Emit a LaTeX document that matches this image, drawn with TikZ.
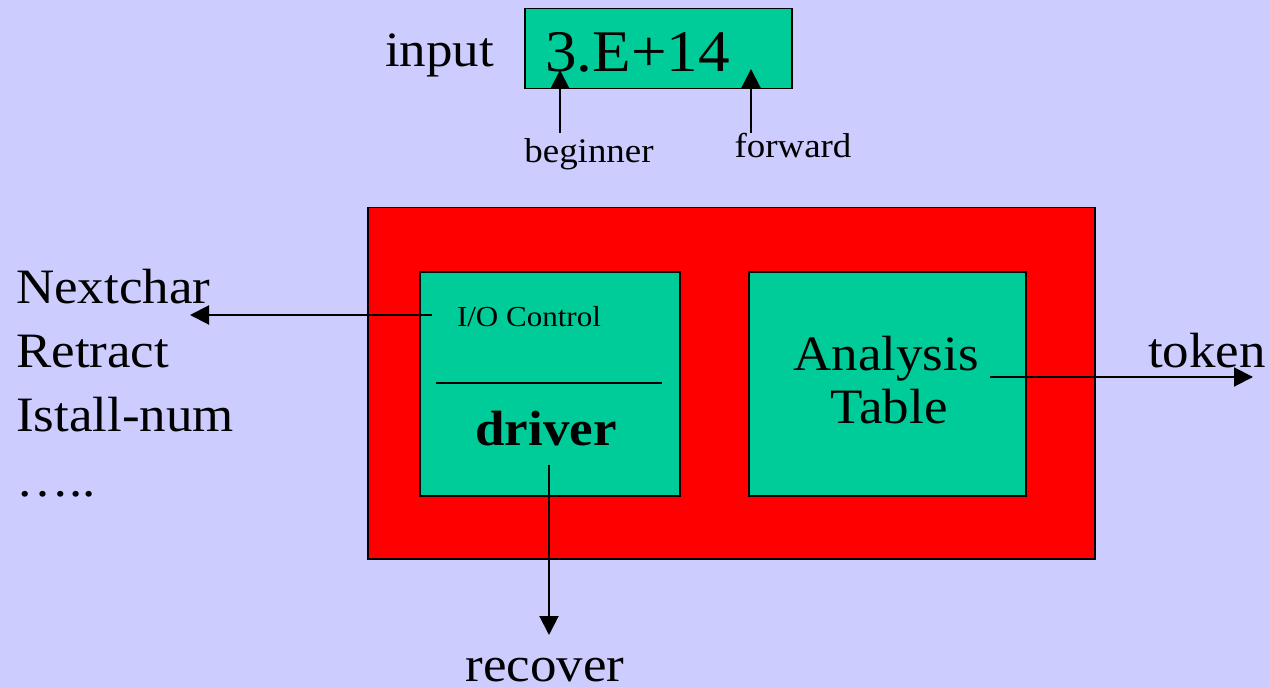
\documentclass[tikz,border=0pt]{standalone}
\usepackage{fontspec}
\setmainfont[FakeStretch=1.07]{Liberation Serif}
\usetikzlibrary{arrows.meta}
\definecolor{bg}{HTML}{CCCCFF}
\definecolor{grn}{HTML}{00CC99}
\begin{document}
\begin{tikzpicture}[x=1pt,y=-1pt,
  box/.style={draw=black, line width=1.5pt, fill=grn, inner sep=0pt, anchor=north west},
  arr/.style={line width=2pt, -{Triangle[length=19pt,width=19pt]}},
  big/.style={font=\fontsize{49.5}{52}\selectfont, inner sep=0pt},
  huge/.style={font=\fontsize{59}{62}\selectfont, inner sep=0pt},
  small/.style={font=\fontsize{34.5}{38}\selectfont, inner sep=0pt},
  tiny/.style={font=\fontsize{29}{32}\selectfont, inner sep=0pt}]
\fill[bg] (0,0) rectangle (1269,687);
\useasboundingbox (0,0) rectangle (1269,687);
% input box
\node (inbox) [box, minimum width=267pt, minimum height=80pt] at (524,8) {};
\node (inlabel) [big, anchor=base west] at (385,67) {input};
\node (value) [huge, anchor=base west] at (545,72) {3.E+14};
\node (beg) [small, anchor=base] at (589,163) {beginner};
\node (fwd) [small, anchor=base] at (793,158) {forward};
\coordinate (begS) at (560,133);
\coordinate (begT) at (560,70);
\coordinate (fwdS) at (751,133);
\coordinate (fwdT) at (751,69);
\draw[arr] (begS) -- (begT);
\draw[arr] (fwdS) -- (fwdT);
% red box
\node (outer) [box, fill=red, minimum width=727pt, minimum height=351pt] at (367,207) {};
\node (drvbox) [box, minimum width=260pt, minimum height=224pt] at (419,271) {};
\node (tabbox) [box, minimum width=277pt, minimum height=224pt] at (748,271) {};
\node (io) [tiny, anchor=base] at (529,326) {I/O Control};
\coordinate (divL) at (436,383);
\coordinate (divR) at (662,383);
\draw[line width=1.5pt] (divL) -- (divR);
\node (drv) [big, anchor=base] at (546,445) {\bfseries driver};
\node (ana) [big, anchor=base] at (886,370) {Analysis};
\node (tab) [big, anchor=base] at (889,423) {Table};
% left list
\node (l1) [big, anchor=base west] at (16,303) {Nextchar};
\node (l2) [big, anchor=base west] at (16,367) {Retract};
\node (l3) [big, anchor=base west] at (16,431) {Istall-num};
\node (l4) [big, anchor=base west] at (16,496) {…..};
% outputs
\node (tok) [big, anchor=base east] at (1266,367) {token};
\node (rec) [big, anchor=base] at (545,681) {recover};
\coordinate (ioS) at (432,315);
\coordinate (ioT) at (190,315);
\coordinate (tokS) at (990,377);
\coordinate (tokT) at (1253,377);
\coordinate (drvS) at (549,465);
\coordinate (drvT) at (549,635);
\draw[arr] (ioS) -- (ioT);
\draw[arr] (tokS) -- (tokT);
\draw[arr] (drvS) -- (drvT);
\end{tikzpicture}
\end{document}
